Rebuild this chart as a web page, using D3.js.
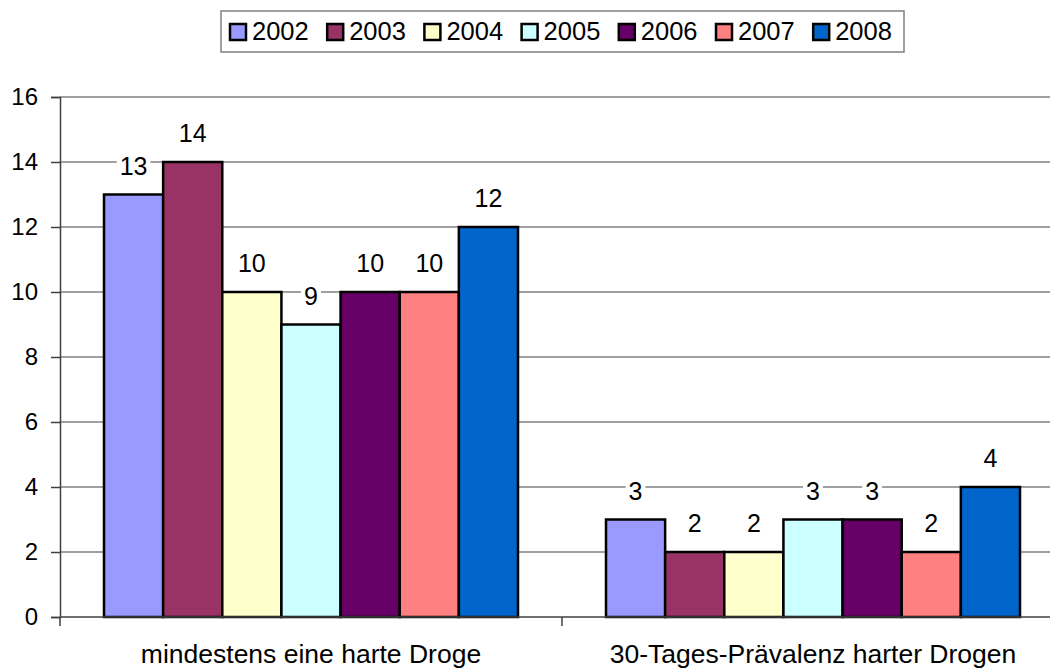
<!DOCTYPE html>
<html><head><meta charset="utf-8">
<script src="https://cdn.jsdelivr.net/npm/d3@7"></script>
<style>
html,body{margin:0;padding:0;background:#fff;}
svg{display:block;font-family:"Liberation Sans",Arial,sans-serif;}
</style></head>
<body>
<svg id="c" width="1050" height="668"></svg>
<script>
const categories = ["mindestens eine harte Droge", "30-Tages-Prävalenz harter Drogen"];
const years = ["2002","2003","2004","2005","2006","2007","2008"];
const colors = ["#9999FF","#993366","#FFFFCC","#CCFFFF","#660066","#FF8080","#0066CC"];
const v2002 = [13, 3];
const v2003 = [14, 2];
const v2004 = [10, 2];
const v2005 = [9, 3];
const v2006 = [10, 3];
const v2007 = [10, 2];
const v2008 = [12, 4];
const yTicks = [0,2,4,6,8,10,12,14,16];

const seriesVals = [v2002,v2003,v2004,v2005,v2006,v2007,v2008];
const svg = d3.select("#c");

const x = d3.scaleBand().domain(categories).range([60, 1064]);
const xi = d3.scaleBand().domain(years).range([44, 458]);
const y = d3.scaleLinear().domain([0,16]).range([617, 97]);

// gridlines
svg.append("g").selectAll("line").data(yTicks.filter(t=>t>0)).join("line")
  .attr("x1", 60).attr("x2", 1050)
  .attr("y1", d=>y(d)).attr("y2", d=>y(d))
  .attr("stroke", "#808080").attr("stroke-width", 1.3);

// y axis
const yAxis = d3.axisLeft(y).tickValues(yTicks).tickSize(9).tickPadding(13);
const ga = svg.append("g").attr("transform","translate(60,0)").call(yAxis);
ga.select(".domain").attr("stroke","#404040").attr("stroke-width",1.5);
ga.selectAll(".tick line").attr("stroke","#404040").attr("stroke-width",1.5);
ga.selectAll(".tick text").attr("font-size", 24).attr("fill","#000")
  .attr("font-family","'Liberation Sans',Arial,sans-serif");

// bars
const data = [];
categories.forEach((c,ci)=>{
  years.forEach((yr,si)=>{ data.push({c, yr, v: seriesVals[si][ci], col: colors[si]}); });
});
svg.append("g").selectAll("rect").data(data).join("rect")
  .attr("x", d=>x(d.c)+xi(d.yr))
  .attr("width", xi.bandwidth())
  .attr("y", d=>y(d.v))
  .attr("height", d=>y(0)-y(d.v))
  .attr("fill", d=>d.col)
  .attr("stroke","#000").attr("stroke-width",2.5);

// x axis
const xAxisG = svg.append("g");
xAxisG.append("line").attr("x1",60).attr("x2",1050).attr("y1",y(0)).attr("y2",y(0))
  .attr("stroke","#404040").attr("stroke-width",1.5);
const bounds = [x(categories[0]), x(categories[1]), x(categories[1])+x.bandwidth()];
xAxisG.selectAll("line.t").data(bounds).join("line").attr("class","t")
  .attr("x1",d=>d).attr("x2",d=>d).attr("y1",y(0)).attr("y2",y(0)+9)
  .attr("stroke","#404040").attr("stroke-width",1.5);
xAxisG.selectAll("text").data(categories).join("text")
  .attr("x", d=>x(d)+x.bandwidth()/2).attr("y", 663)
  .attr("text-anchor","middle").attr("font-size",26.5).text(d=>d);

// data labels
const lg = svg.append("g");
data.forEach(d=>{
  const cx = x(d.c)+xi(d.yr)+xi.bandwidth()/2;
  const g = lg.append("g");
  const t = g.append("text").attr("x",cx).attr("y", y(d.v)-20)
    .attr("text-anchor","middle").attr("font-size",25).text(d.v);
  const bb = t.node().getBBox();
  g.insert("rect","text").attr("x",bb.x-3).attr("y",bb.y+2).attr("width",bb.width+6).attr("height",bb.height-4)
    .attr("fill","#fff");
});

// legend
const leg = svg.append("g");
leg.append("rect").attr("x",221).attr("y",11).attr("width",683).attr("height",41)
  .attr("fill","#fff").attr("stroke","#808080").attr("stroke-width",1.5);
years.forEach((yr,i)=>{
  const tx = 252 + i*97.2;
  leg.append("rect").attr("x",tx-22).attr("y",24).attr("width",16).attr("height",16)
    .attr("fill",colors[i]).attr("stroke","#000").attr("stroke-width",2.5);
  leg.append("text").attr("x",tx).attr("y",40).attr("font-size",25.5).text(yr);
});
</script>
</body></html>
